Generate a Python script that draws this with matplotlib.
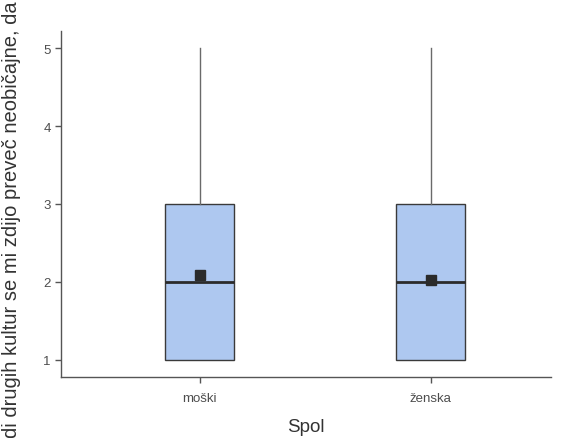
import matplotlib
matplotlib.use("Agg")
import matplotlib.pyplot as plt

plt.rcParams['font.family'] = ['Liberation Sans', 'DejaVu Sans']

groups = ['moški', 'ženska']
q1 = [1, 1]
med = [2, 2]
q3 = [3, 3]
whis_lo = [1, 1]
whis_hi = [5, 5]
means = [2.09, 2.03]
y_ticks = [1, 2, 3, 4, 5]
# only the part of the long y label that shows in the picture
y_label = "di drugih kultur se mi zdijo preveč neobičajne, da"

stats = []
for i, g in enumerate(groups):
    stats.append(dict(label=g, q1=q1[i], med=med[i], q3=q3[i],
                      whislo=whis_lo[i], whishi=whis_hi[i], mean=means[i], fliers=[]))

fig = plt.figure(figsize=(5.66, 4.39), dpi=100)
ax = fig.add_axes([61/566, 1 - 378/439, 490/566, 346/439])

pos = list(range(1, len(groups) + 1))
ax.bxp(stats, positions=pos, widths=0.3, patch_artist=True, showmeans=True,
       showcaps=False,
       boxprops=dict(facecolor='#aec8f0', edgecolor='#3a3a3a', linewidth=1.0),
       medianprops=dict(color='#2b2b2b', linewidth=2.0),
       whiskerprops=dict(color='#6a6a6a', linewidth=1.0),
       meanprops=dict(marker='s', markerfacecolor='#2b2b2b', markeredgecolor='#2b2b2b',
                      markersize=6.5))

ax.set_xlim(0.4, 2.52)
ax.set_ylim(0.78, 5.22)
ax.set_yticks(y_ticks)
ax.set_xticks(pos)
ax.set_xticklabels(groups)

for s in ['top', 'right']:
    ax.spines[s].set_visible(False)
for s in ['left', 'bottom']:
    ax.spines[s].set_color('#555555')
    ax.spines[s].set_linewidth(1.0)
ax.tick_params(colors='#4d4d4d', labelsize=9.5, length=4, width=1, color='#555555')
ax.tick_params(axis='x', pad=7)

ax.set_xlabel('Spol', fontsize=13.5, color='#333333', labelpad=10)
fig.text(12/566, 1 - 220/439, y_label, rotation=90, fontsize=14.5, color='#333333',
         ha='center', va='center')

fig.savefig('out.png', dpi=100)
